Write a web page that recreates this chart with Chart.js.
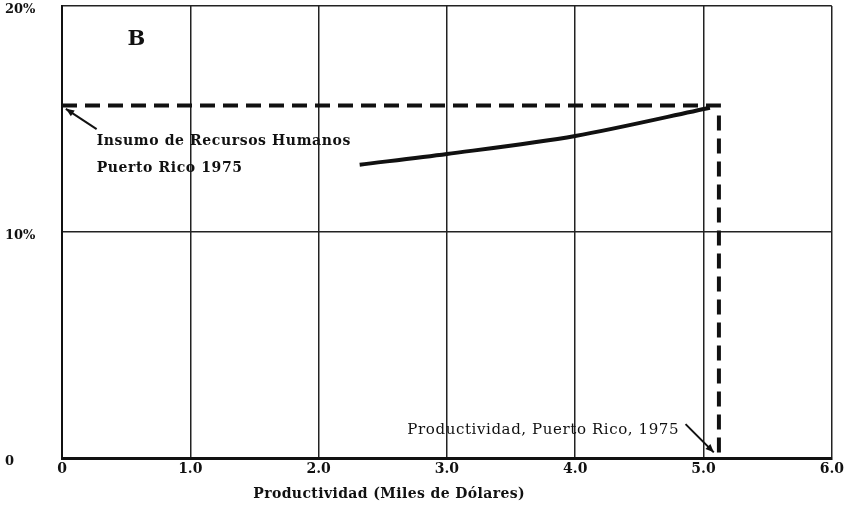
<!DOCTYPE html>
<html>
<head>
<meta charset="utf-8">
<script src="https://cdn.jsdelivr.net/npm/chart.js@4/dist/chart.umd.min.js"></script>
<style>
  body { margin: 0; background: #fff; }
  #wrap { width: 847px; height: 518px; }
</style>
</head>
<body>
<div id="wrap"><canvas id="myChart"></canvas></div>
<script>
// productividad (miles de dolares) vs % insumo
var xTicks = [0, 1, 2, 3, 4, 5, 6];
var yTicks = [0, 10, 20];
var curveX = [2.32, 3.0, 4.0, 5.05];
var curveY = [12.98, 13.45, 14.25, 15.5];
var refX = [0, 5.12, 5.12];
var refY = [15.6, 15.6, 0];

function toPoints(xs, ys) {
    var pts = [];
    for (var i = 0; i < xs.length; i++) {
        pts.push({ x: xs[i], y: ys[i] });
    }
    return pts;
}

var serif = '"DejaVu Serif", "Liberation Serif", serif';

function arrow(ctx, x1, y1, x2, y2) {
    var a = Math.atan2(y2 - y1, x2 - x1);
    ctx.beginPath();
    ctx.moveTo(x1, y1);
    ctx.lineTo(x2, y2);
    ctx.stroke();
    ctx.beginPath();
    ctx.moveTo(x2, y2);
    ctx.lineTo(x2 - 9 * Math.cos(a - 0.4), y2 - 9 * Math.sin(a - 0.4));
    ctx.lineTo(x2 - 9 * Math.cos(a + 0.4), y2 - 9 * Math.sin(a + 0.4));
    ctx.closePath();
    ctx.fill();
}

var notes = {
    id: 'notes',
    afterDatasetsDraw: function(chart) {
        var ctx = chart.ctx;
        var xs = chart.scales.x, ys = chart.scales.y;
        ctx.save();
        ctx.fillStyle = '#111';
        ctx.strokeStyle = '#111';
        ctx.lineWidth = 2;
        ctx.textBaseline = 'middle';

        ctx.font = 'bold 21px ' + serif;
        ctx.textAlign = 'center';
        ctx.fillText('B', xs.getPixelForValue(0.58), ys.getPixelForValue(18.5));

        ctx.font = 'bold 14px ' + serif;
        ctx.letterSpacing = '0.6px';
        ctx.textAlign = 'left';
        ctx.fillText('Insumo de Recursos Humanos', xs.getPixelForValue(0.27), ys.getPixelForValue(14.0));
        ctx.fillText('Puerto Rico 1975', xs.getPixelForValue(0.27), ys.getPixelForValue(12.8));
        arrow(ctx, xs.getPixelForValue(0.27), ys.getPixelForValue(14.55),
              xs.getPixelForValue(0.03), ys.getPixelForValue(15.45));

        ctx.font = '15px ' + serif;
        ctx.textAlign = 'right';
        ctx.fillText('Productividad, Puerto Rico, 1975', xs.getPixelForValue(4.81), ys.getPixelForValue(1.24));
        arrow(ctx, xs.getPixelForValue(4.86), ys.getPixelForValue(1.5),
              xs.getPixelForValue(5.08), ys.getPixelForValue(0.25));

        // axis title, set left of centre as in the original
        ctx.font = 'bold 14px ' + serif;
        ctx.letterSpacing = '0.4px';
        ctx.textAlign = 'center';
        ctx.fillText('Productividad (Miles de Dólares)', xs.getPixelForValue(2.55), ys.bottom + 36);
        ctx.restore();
    }
};

var ctx = document.getElementById('myChart');
var myChart = new Chart(ctx, {
    type: 'line',
    data: {
        datasets: [{
            data: toPoints(refX, refY),
            borderColor: '#111',
            borderWidth: 4,
            borderDash: [15, 8],
            pointRadius: 0,
            tension: 0
        }, {
            data: toPoints(curveX, curveY),
            borderColor: '#111',
            borderWidth: 4,
            pointRadius: 0,
            tension: 0.3
        }]
    },
    options: {
        responsive: true,
        maintainAspectRatio: false,
        animation: false,
        layout: { padding: { top: 6, right: 11, left: 5, bottom: 0 } },
        plugins: { legend: { display: false }, tooltip: { enabled: false } },
        scales: {
            x: {
                type: 'linear',
                min: 0,
                max: 6,
                afterBuildTicks: function(scale) {
                    scale.ticks = xTicks.map(function(v) { return { value: v }; });
                },
                afterFit: function(scale) { scale.height = 60; },
                grid: { color: '#222', lineWidth: 1.5, drawTicks: false },
                border: { color: '#111', width: 3 },
                ticks: {
                    color: '#111',
                    padding: 3,
                    maxRotation: 0,
                    font: { family: serif, size: 14, weight: 'bold' },
                    callback: function(v) { return v === 0 ? '0' : v.toFixed(1); }
                }
            },
            y: {
                min: 0,
                max: 20,
                afterBuildTicks: function(scale) {
                    scale.ticks = yTicks.map(function(v) { return { value: v }; });
                },
                afterFit: function(scale) {
                    scale.width = 57;
                    scale.paddingTop = 0;
                },
                grid: { color: '#222', lineWidth: 1.5, drawTicks: false },
                border: { color: '#111', width: 2 },
                ticks: {
                    color: '#111',
                    crossAlign: 'far',
                    padding: 10,
                    labelOffset: 4,
                    font: { family: serif, size: 13, weight: 'bold' },
                    callback: function(v) { return v === 0 ? '0' : v + '%'; }
                }
            }
        }
    },
    plugins: [notes]
});
</script>
</body>
</html>
